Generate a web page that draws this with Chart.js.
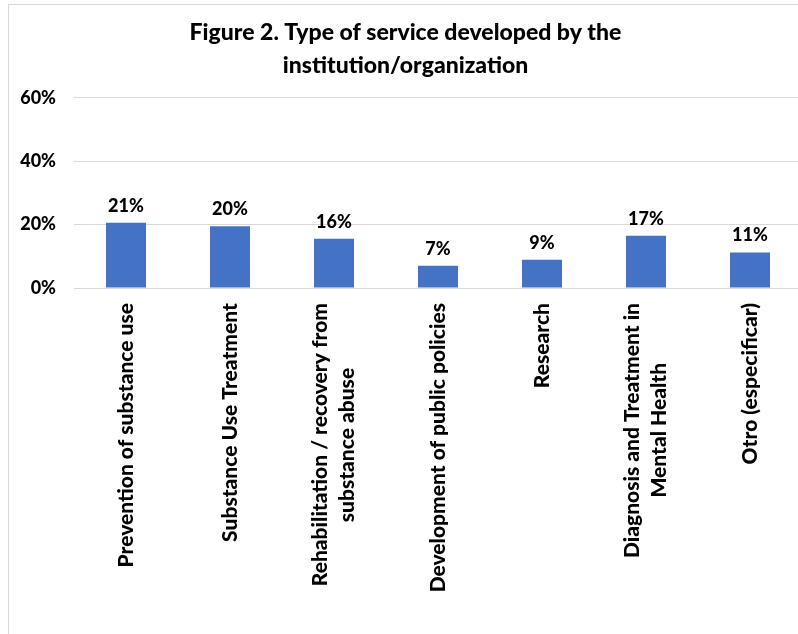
<!DOCTYPE html>
<html>
<head>
<meta charset="utf-8">
<script src="https://cdn.jsdelivr.net/npm/chart.js@4.4.1/dist/chart.umd.min.js"></script>
<style>
  html, body { margin: 0; padding: 0; background: #fff; overflow: hidden; width: 798px; height: 634px; }
  #frame { position: absolute; left: 8px; top: 4px; width: 812px; height: 650px; border: 1px solid #d9d9d9; box-sizing: border-box; background: #fff; }
  canvas { position: absolute; left: 0; top: 0; }
</style>
</head>
<body>
<div id="frame"><canvas id="c" width="810" height="648"></canvas></div>
<script>
const titleLines = ["Figure 2. Type of service developed by the", "institution/organization"];
const categories = [
  ["Prevention of substance use"],
  ["Substance Use Treatment"],
  ["Rehabilitation / recovery from", "substance abuse"],
  ["Development of public policies"],
  ["Research"],
  ["Diagnosis and Treatment in", "Mental Health"],
  ["Otro (especificar)"]
];
const values = [20.6, 19.5, 15.5, 7.0, 8.9, 16.5, 11.2];
const yTicks = [0, 20, 40, 60];

const FONT = "Lato, 'Open Sans', sans-serif";
const X_FONT = { family: FONT, size: 21, weight: '900', lineHeight: 1.3 };

// measure helper to center shorter lines of multi-line rotated labels
const mctx = document.createElement('canvas').getContext('2d');
function centerLines(lines) {
  if (!Array.isArray(lines) || lines.length < 2) return lines;
  mctx.font = X_FONT.weight + ' ' + X_FONT.size + 'px ' + X_FONT.family;
  const widths = lines.map(l => mctx.measureText(l).width);
  const maxW = Math.max(...widths);
  const sp = mctx.measureText(' ').width;
  return lines.map((l, i) => {
    const n = Math.round((maxW - widths[i]) / 2 / sp);
    return l + ' '.repeat(n);
  });
}

// center multi-line rotated x labels on their tick
const centerMultiLine = {
  id: 'centerMultiLine',
  beforeDraw(chart) {
    const sx = chart.scales.x;
    const items = sx.getLabelItems();
    const lh = X_FONT.size * X_FONT.lineHeight;
    items.forEach(it => {
      if (it._centered) return;
      const n = Array.isArray(it.label) ? it.label.length : 1;
      if (n > 1 && it.options && it.options.translation) {
        it.options.translation[0] -= (n - 1) * lh / 2;
      }
      it._centered = true;
    });
  }
};

const dataLabels = {
  id: 'dataLabels',
  afterDatasetsDraw(chart) {
    const ctx = chart.ctx;
    const meta = chart.getDatasetMeta(0);
    ctx.save();
    ctx.font = "900 18px " + FONT;
    ctx.fillStyle = "#000";
    ctx.textAlign = "center";
    ctx.textBaseline = "alphabetic";
    meta.data.forEach((bar, i) => {
      ctx.fillText(Math.round(values[i]) + "%", bar.x, bar.y - 11);
    });
    ctx.restore();
  }
};

new Chart(document.getElementById('c'), {
  type: 'bar',
  data: {
    labels: categories,
    datasets: [{
      data: values,
      backgroundColor: '#4472C4',
      borderWidth: 0,
      categoryPercentage: 1,
      barPercentage: 0.385
    }]
  },
  options: {
    responsive: false,
    devicePixelRatio: 1,
    animation: false,
    layout: { padding: { left: 0, right: 17, top: 0, bottom: 0 } },
    plugins: {
      legend: { display: false },
      tooltip: { enabled: false },
      title: {
        display: true,
        text: titleLines,
        color: '#000',
        font: { family: FONT, size: 23, weight: '900', lineHeight: 1.45 },
        padding: { top: 11, bottom: 15 }
      }
    },
    scales: {
      y: {
        min: 0, max: 60,
        afterBuildTicks: s => { s.ticks = yTicks.map(v => ({ value: v })); },
        afterFit: s => { s.width = 65; },
        border: { display: false },
        grid: { color: '#d9d9d9', lineWidth: 1, drawTicks: false },
        ticks: {
          padding: 18,
          color: '#000',
          font: { family: FONT, size: 18, weight: '900' },
          callback: v => v + '%'
        }
      },
      x: {
        afterFit: s => { s.height = 648 - 283; },
        border: { display: false },
        grid: { display: false, drawTicks: false },
        ticks: {
          autoSkip: false,
          minRotation: 90,
          maxRotation: 90,
          padding: 15,
          color: '#000',
          font: X_FONT,
          callback: function (v, i) { return centerLines(categories[i]); }
        }
      }
    }
  },
  plugins: [centerMultiLine, dataLabels]
});
</script>
</body>
</html>
